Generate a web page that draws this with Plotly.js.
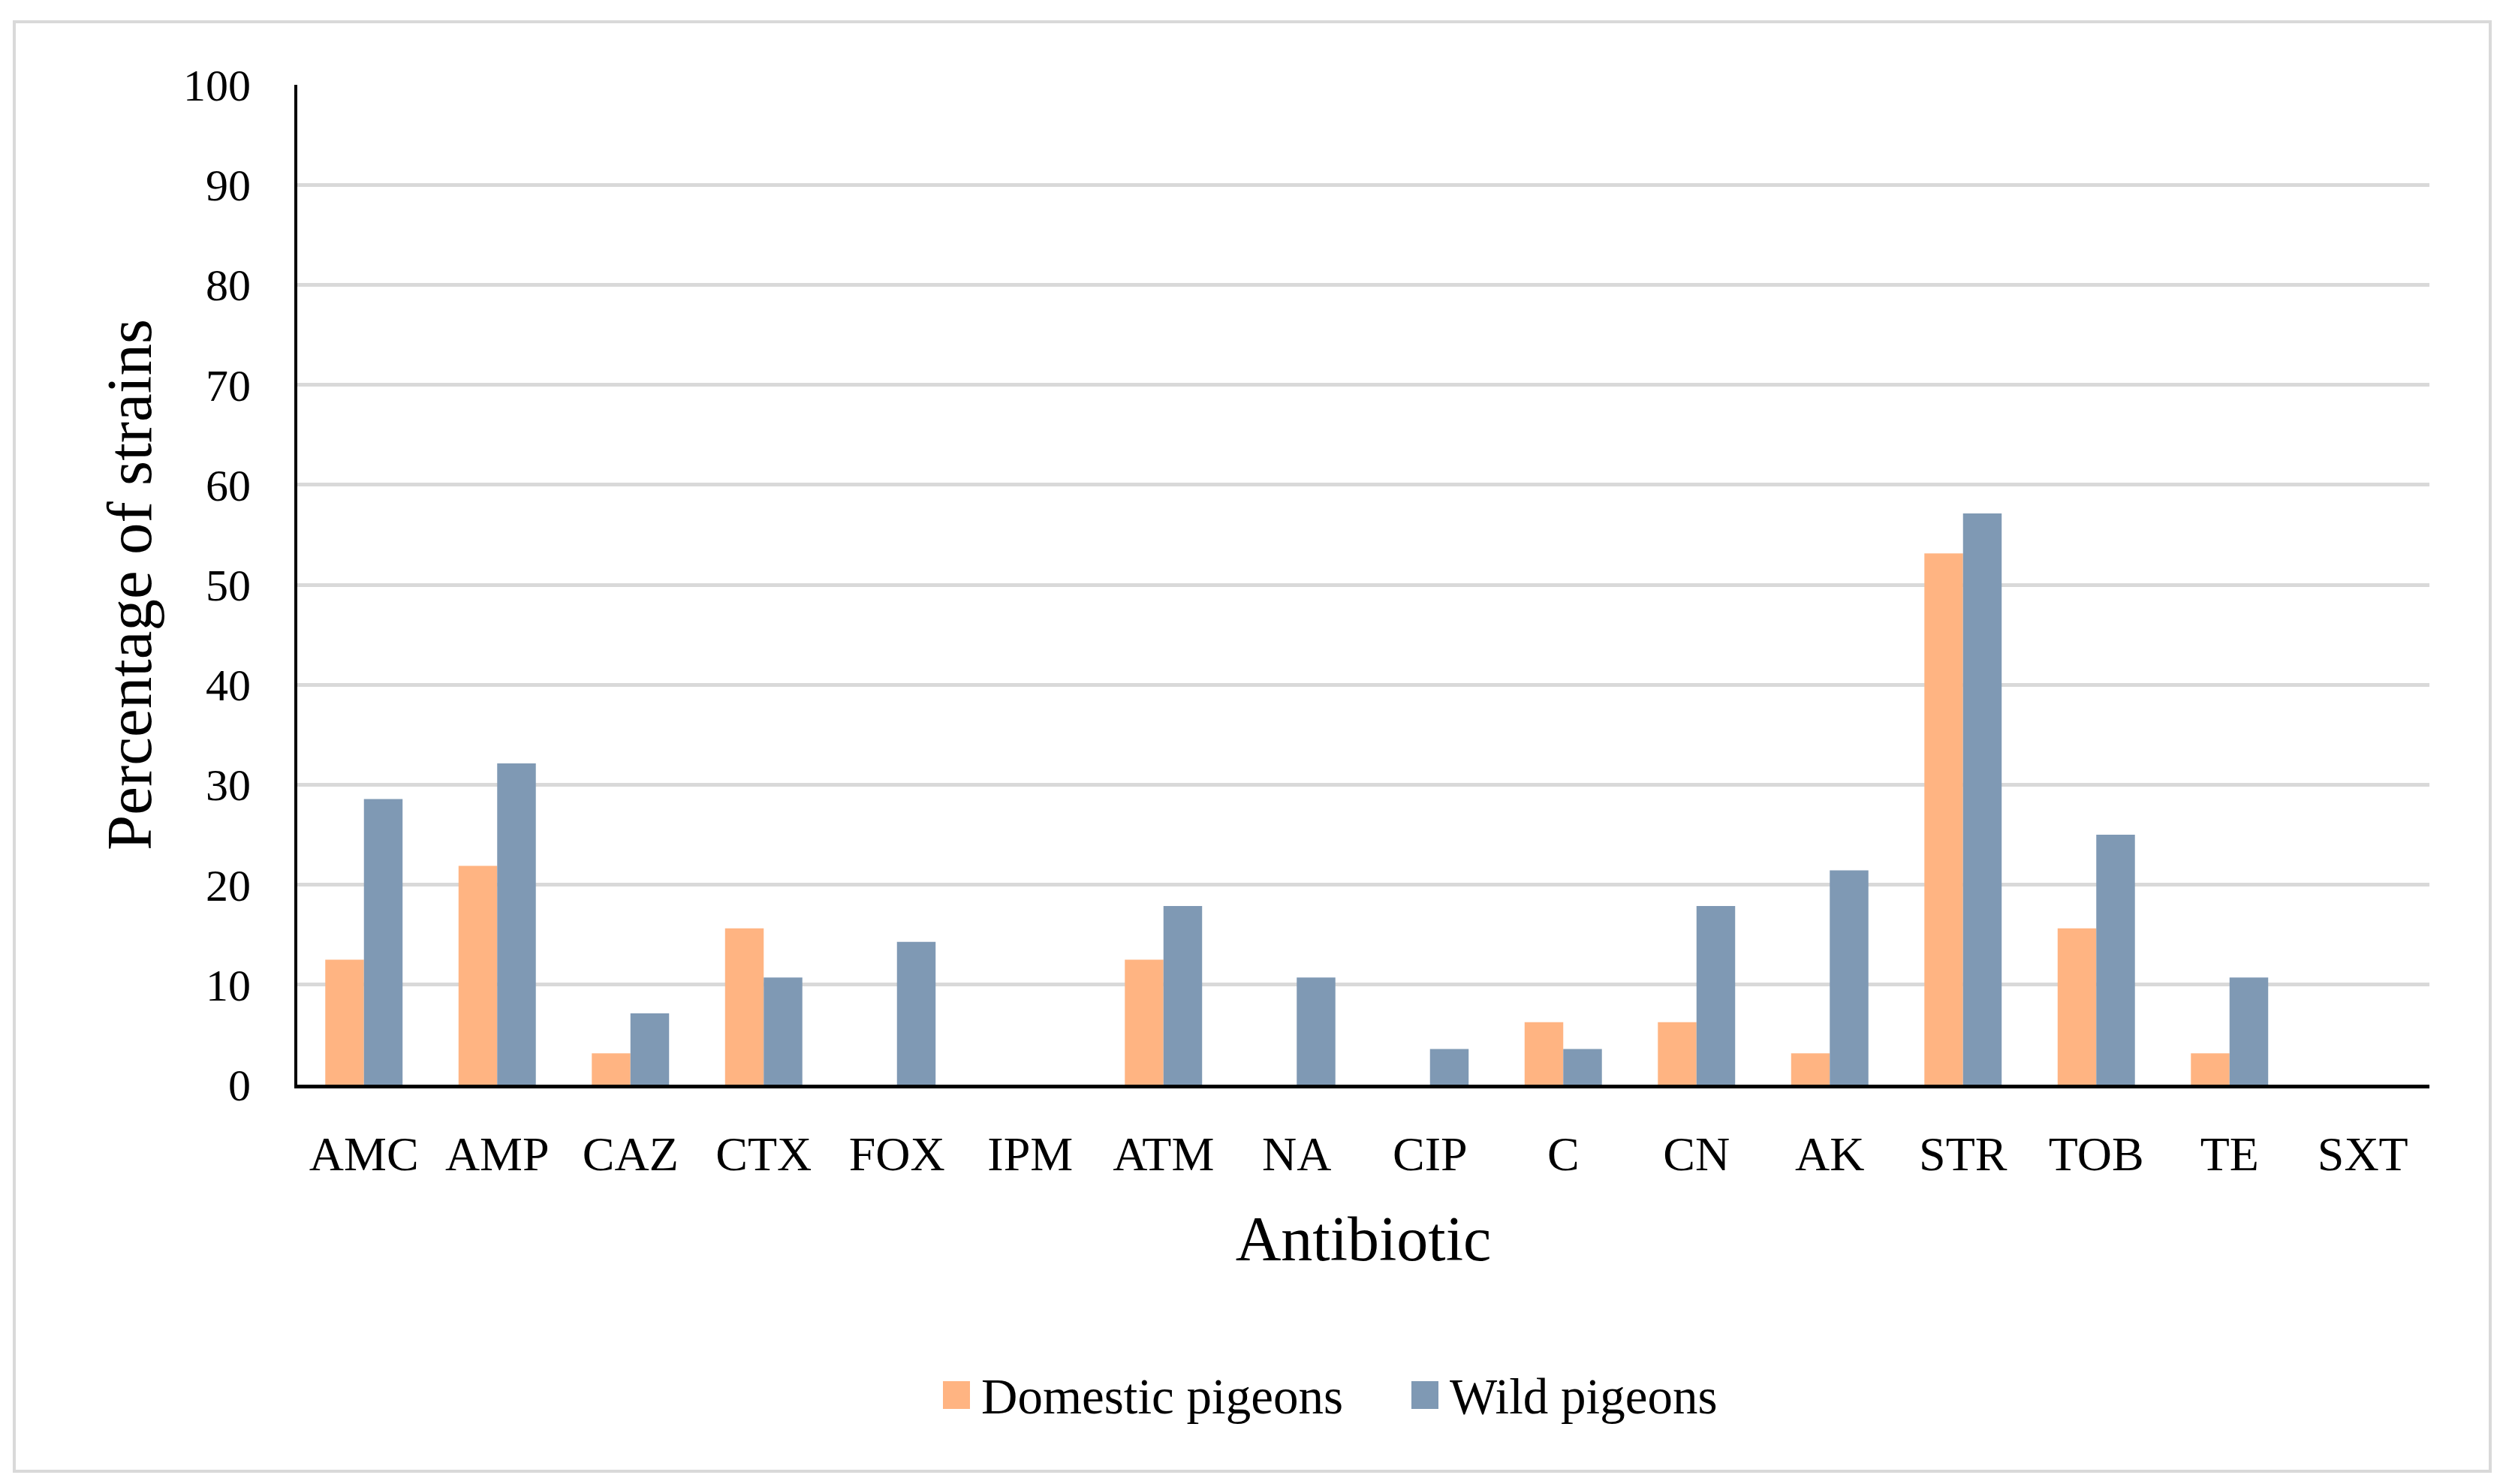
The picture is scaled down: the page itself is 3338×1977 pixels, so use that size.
<!DOCTYPE html>
<html>
<head>
<meta charset="utf-8">
<script src="https://cdn.plot.ly/plotly-3.0.1.min.js"></script>
<style>html,body{margin:0;padding:0;background:#fff;}#chart{width:3338px;height:1977px;}</style>
</head>
<body>
<div id="chart"></div>
<script>
// ---- data ----
const categories = ['AMC','AMP','CAZ','CTX','FOX','IPM','ATM','NA','CIP','C','CN','AK','STR','TOB','TE','SXT'];
const domesticPigeons = [12.5, 21.88, 3.13, 15.63, 0, 0, 12.5, 0, 0, 6.25, 6.25, 3.13, 53.13, 15.63, 3.13, 0];
const wildPigeons = [28.57, 32.14, 7.14, 10.71, 14.29, 0, 17.86, 10.71, 3.57, 3.57, 17.86, 21.43, 57.14, 25, 10.71, 0];
const seriesNames = ['Domestic pigeons', 'Wild pigeons'];
const yTickValues = [0,10,20,30,40,50,60,70,80,90,100];

// ---- geometry / style ----
const W = 3338, H = 1977;
const L = 396, R = 3236, T = 113, B = 1445;
const px2x = px => (px - L) / (R - L);
const py2y = py => (B - py) / (B - T);
const FONT = 'Liberation Serif, Times New Roman, serif';
const COL_DOM = '#FFB482';
const COL_WILD = '#7F99B4';
const GRID = '#d9d9d9';

const traces = [
  {type:'bar', x:categories, y:domesticPigeons, name:seriesNames[0], marker:{color:COL_DOM, line:{width:0}}, hoverinfo:'x+y+name'},
  {type:'bar', x:categories, y:wildPigeons, name:seriesNames[1], marker:{color:COL_WILD, line:{width:0}}, hoverinfo:'x+y+name'}
];

const layout = {
  width: W, height: H,
  margin: {l: L, r: W - R, t: T, b: H - B, pad: 0},
  paper_bgcolor: '#ffffff', plot_bgcolor: '#ffffff',
  font: {family: FONT, size: 62, color: '#000'},
  showlegend: false,
  barmode: 'group', bargap: 0.42, bargroupgap: 0,
  xaxis: {
    type: 'category', showgrid: false, zeroline: false,
    showline: true, linecolor: '#000', linewidth: 5,
    ticks: '', ticklabelstandoff: 32,
    tickfont: {family: FONT, size: 64, color: '#000'},
    title: {text: 'Antibiotic', font: {family: FONT, size: 84, color: '#000'}, standoff: 50},
    automargin: false
  },
  yaxis: {
    range: [0, 100], tickvals: yTickValues, ticktext: yTickValues.map(String),
    showgrid: true, gridcolor: GRID, gridwidth: 5, zeroline: false,
    showline: true, linecolor: '#000', linewidth: 4,
    ticks: '', ticklabelstandoff: 46,
    tickfont: {family: FONT, size: 60, color: '#000'},
    title: {text: 'Percentage of strains', font: {family: FONT, size: 85, color: '#000'}, standoff: 15},
    automargin: false
  },
  shapes: [
    {type:'rect', xref:'paper', yref:'paper', x0:px2x(19), x1:px2x(3317), y0:py2y(1960), y1:py2y(29), line:{color:GRID, width:4}, fillcolor:'rgba(0,0,0,0)', layer:'below'},
    {type:'rect', xref:'paper', yref:'paper', x0:px2x(1256), x1:px2x(1292), y0:py2y(1877), y1:py2y(1840), line:{width:0}, fillcolor:COL_DOM},
    {type:'rect', xref:'paper', yref:'paper', x0:px2x(1880), x1:px2x(1916), y0:py2y(1877), y1:py2y(1840), line:{width:0}, fillcolor:COL_WILD}
  ],
  annotations: [
    {xref:'paper', yref:'paper', x:px2x(1305), y:py2y(1860), text:seriesNames[0], showarrow:false, xanchor:'left', yanchor:'middle', font:{family:FONT, size:67, color:'#000'}},
    {xref:'paper', yref:'paper', x:px2x(1929), y:py2y(1860), text:seriesNames[1], showarrow:false, xanchor:'left', yanchor:'middle', font:{family:FONT, size:67, color:'#000'}}
  ]
};

Plotly.newPlot('chart', traces, layout, {displayModeBar: false, staticPlot: true});
</script>
</body>
</html>
